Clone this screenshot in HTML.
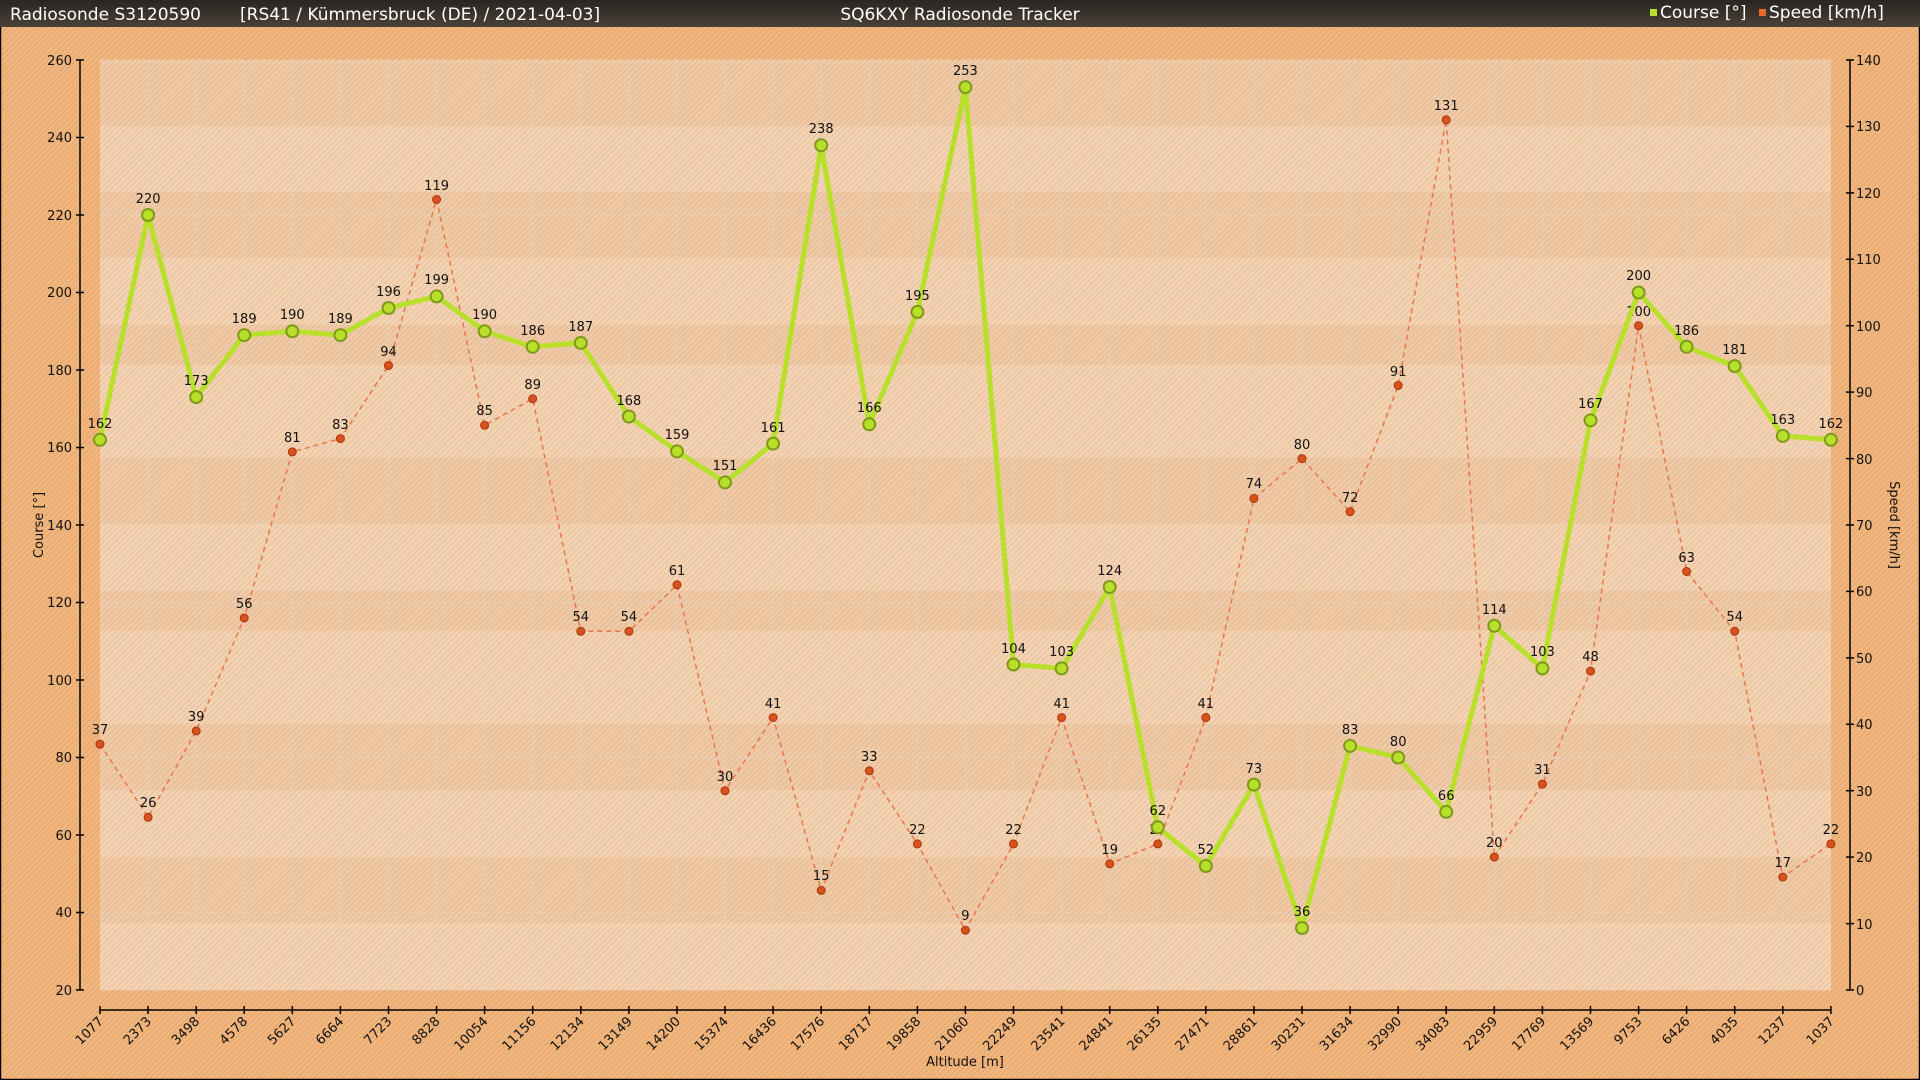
<!DOCTYPE html>
<html><head><meta charset="utf-8"><style>
html,body{margin:0;padding:0;width:1920px;height:1080px;overflow:hidden;}
svg{display:block;font-family:"DejaVu Sans","Liberation Sans",sans-serif;}
</style></head><body>
<svg width="1920" height="1080" viewBox="0 0 1920 1080" xmlns="http://www.w3.org/2000/svg">
<defs>
<pattern id="h" width="4" height="4" patternUnits="userSpaceOnUse" patternTransform="rotate(45)">
<rect width="4" height="4" fill="none"/><line x1="0" y1="0" x2="0" y2="4" stroke="#000" stroke-opacity="0.11" stroke-width="1.4"/></pattern>
<linearGradient id="hd" x1="0" y1="0" x2="0" y2="1"><stop offset="0" stop-color="#2a2520"/><stop offset="1" stop-color="#4a4038"/></linearGradient>
</defs>
<rect width="1920" height="1080" fill="#f2b57c"/>
<rect width="1920" height="1080" fill="url(#h)"/>
<rect x="0.5" y="0.5" width="1919" height="1079" fill="none" stroke="#000" stroke-width="1.5"/>
<rect x="0" y="0" width="1920" height="27" fill="url(#hd)"/>
<text x="10" y="20" font-size="17" fill="#fff">Radiosonde S3120590</text>
<text x="240" y="20" font-size="17" fill="#fff">[RS41 / Kümmersbruck (DE) / 2021-04-03]</text>
<text x="960" y="20" font-size="17" fill="#fff" text-anchor="middle">SQ6KXY Radiosonde Tracker</text>
<rect x="1650" y="9" width="7" height="7" fill="#b8e02a"/>
<text x="1660" y="18" font-size="17" fill="#fff">Course [°]</text>
<rect x="1759" y="9" width="7" height="7" fill="#e86a2a"/>
<text x="1769" y="18" font-size="17" fill="#fff">Speed [km/h]</text>

<rect x="100" y="60" width="1731" height="930" fill="#f5d2b0"/>
<g fill="#e8b88c" opacity="0.3">
<rect x="100" y="60" width="1731" height="66"/>
<rect x="100" y="192" width="1731" height="66"/>
<rect x="100" y="325" width="1731" height="40"/>
<rect x="100" y="458" width="1731" height="66"/>
<rect x="100" y="591" width="1731" height="40"/>
<rect x="100" y="724" width="1731" height="66"/>
<rect x="100" y="857" width="1731" height="66"/>
</g>
<rect x="100" y="60" width="1731" height="930" fill="url(#h)"/>
<g stroke="#e6d2c0" stroke-width="1" stroke-dasharray="4,3">
<line x1="100" x2="1831" y1="137.5" y2="137.5"/><line x1="100" x2="1831" y1="215" y2="215"/><line x1="100" x2="1831" y1="292.5" y2="292.5"/><line x1="100" x2="1831" y1="370" y2="370"/><line x1="100" x2="1831" y1="447.5" y2="447.5"/><line x1="100" x2="1831" y1="525" y2="525"/><line x1="100" x2="1831" y1="602.5" y2="602.5"/><line x1="100" x2="1831" y1="680" y2="680"/><line x1="100" x2="1831" y1="757.5" y2="757.5"/><line x1="100" x2="1831" y1="835" y2="835"/><line x1="100" x2="1831" y1="912.5" y2="912.5"/>
<line x1="100" x2="1831" y1="60" y2="60"/><line x1="100" x2="1831" y1="990" y2="990"/>
<path d="M148.1 60v930M196.2 60v930M244.2 60v930M292.3 60v930M340.4 60v930M388.5 60v930M436.6 60v930M484.6 60v930M532.7 60v930M580.8 60v930M628.9 60v930M677 60v930M725 60v930M773.1 60v930M821.2 60v930M869.3 60v930M917.4 60v930M965.4 60v930M1013.5 60v930M1061.6 60v930M1109.7 60v930M1157.8 60v930M1205.8 60v930M1253.9 60v930M1302 60v930M1350.1 60v930M1398.2 60v930M1446.2 60v930M1494.3 60v930M1542.4 60v930M1590.5 60v930M1638.6 60v930M1686.6 60v930M1734.7 60v930M1782.8 60v930"/>
</g>

<g stroke="#000" stroke-width="1.5">
<line x1="80" y1="60" x2="80" y2="990"/>
<line x1="76" x2="84" y1="60" y2="60"/><line x1="76" x2="84" y1="137.5" y2="137.5"/><line x1="76" x2="84" y1="215" y2="215"/><line x1="76" x2="84" y1="292.5" y2="292.5"/><line x1="76" x2="84" y1="370" y2="370"/><line x1="76" x2="84" y1="447.5" y2="447.5"/><line x1="76" x2="84" y1="525" y2="525"/><line x1="76" x2="84" y1="602.5" y2="602.5"/><line x1="76" x2="84" y1="680" y2="680"/><line x1="76" x2="84" y1="757.5" y2="757.5"/><line x1="76" x2="84" y1="835" y2="835"/><line x1="76" x2="84" y1="912.5" y2="912.5"/><line x1="76" x2="84" y1="990" y2="990"/>
</g>
<g font-size="13" fill="#111" text-anchor="end">
<text x="72" y="65">260</text><text x="72" y="142">240</text><text x="72" y="220">220</text><text x="72" y="297">200</text><text x="72" y="375">180</text><text x="72" y="452">160</text><text x="72" y="530">140</text><text x="72" y="607">120</text><text x="72" y="685">100</text><text x="72" y="762">80</text><text x="72" y="840">60</text><text x="72" y="917">40</text><text x="72" y="995">20</text>
</g>
<text transform="translate(43,525) rotate(-90)" font-size="13" text-anchor="middle" fill="#111">Course [°]</text>

<g stroke="#000" stroke-width="1.5">
<line x1="1850" y1="60" x2="1850" y2="990"/>
<line x1="1846" x2="1854" y1="60" y2="60"/><line x1="1846" x2="1854" y1="126.4" y2="126.4"/><line x1="1846" x2="1854" y1="192.9" y2="192.9"/><line x1="1846" x2="1854" y1="259.3" y2="259.3"/><line x1="1846" x2="1854" y1="325.7" y2="325.7"/><line x1="1846" x2="1854" y1="392.1" y2="392.1"/><line x1="1846" x2="1854" y1="458.6" y2="458.6"/><line x1="1846" x2="1854" y1="525" y2="525"/><line x1="1846" x2="1854" y1="591.4" y2="591.4"/><line x1="1846" x2="1854" y1="657.9" y2="657.9"/><line x1="1846" x2="1854" y1="724.3" y2="724.3"/><line x1="1846" x2="1854" y1="790.7" y2="790.7"/><line x1="1846" x2="1854" y1="857.1" y2="857.1"/><line x1="1846" x2="1854" y1="923.6" y2="923.6"/><line x1="1846" x2="1854" y1="990" y2="990"/>
</g>
<g font-size="13" fill="#111">
<text x="1856" y="65">140</text><text x="1856" y="131">130</text><text x="1856" y="198">120</text><text x="1856" y="264">110</text><text x="1856" y="331">100</text><text x="1856" y="397">90</text><text x="1856" y="464">80</text><text x="1856" y="530">70</text><text x="1856" y="596">60</text><text x="1856" y="663">50</text><text x="1856" y="729">40</text><text x="1856" y="796">30</text><text x="1856" y="862">20</text><text x="1856" y="929">10</text><text x="1856" y="995">0</text>
</g>
<text transform="translate(1890,525) rotate(90)" font-size="13" text-anchor="middle" fill="#111">Speed [km/h]</text>

<line x1="100" y1="1010" x2="1831" y2="1010" stroke="#000" stroke-width="1.5"/>
<g stroke="#000" stroke-width="1.5">
<path d="M100 1006v8M148.1 1006v8M196.2 1006v8M244.2 1006v8M292.3 1006v8M340.4 1006v8M388.5 1006v8M436.6 1006v8M484.6 1006v8M532.7 1006v8M580.8 1006v8M628.9 1006v8M677 1006v8M725 1006v8M773.1 1006v8M821.2 1006v8M869.3 1006v8M917.4 1006v8M965.4 1006v8M1013.5 1006v8M1061.6 1006v8M1109.7 1006v8M1157.8 1006v8M1205.8 1006v8M1253.9 1006v8M1302 1006v8M1350.1 1006v8M1398.2 1006v8M1446.2 1006v8M1494.3 1006v8M1542.4 1006v8M1590.5 1006v8M1638.6 1006v8M1686.6 1006v8M1734.7 1006v8M1782.8 1006v8M1830.9 1006v8"/>
</g>
<g font-size="13" fill="#111" text-anchor="end">
<text transform="translate(104,1022) rotate(-45)">1077</text>
<text transform="translate(152.1,1022) rotate(-45)">2373</text>
<text transform="translate(200.2,1022) rotate(-45)">3498</text>
<text transform="translate(248.2,1022) rotate(-45)">4578</text>
<text transform="translate(296.3,1022) rotate(-45)">5627</text>
<text transform="translate(344.4,1022) rotate(-45)">6664</text>
<text transform="translate(392.5,1022) rotate(-45)">7723</text>
<text transform="translate(440.6,1022) rotate(-45)">8828</text>
<text transform="translate(488.6,1022) rotate(-45)">10054</text>
<text transform="translate(536.7,1022) rotate(-45)">11156</text>
<text transform="translate(584.8,1022) rotate(-45)">12134</text>
<text transform="translate(632.9,1022) rotate(-45)">13149</text>
<text transform="translate(681,1022) rotate(-45)">14200</text>
<text transform="translate(729,1022) rotate(-45)">15374</text>
<text transform="translate(777.1,1022) rotate(-45)">16436</text>
<text transform="translate(825.2,1022) rotate(-45)">17576</text>
<text transform="translate(873.3,1022) rotate(-45)">18717</text>
<text transform="translate(921.4,1022) rotate(-45)">19858</text>
<text transform="translate(969.4,1022) rotate(-45)">21060</text>
<text transform="translate(1017.5,1022) rotate(-45)">22249</text>
<text transform="translate(1065.6,1022) rotate(-45)">23541</text>
<text transform="translate(1113.7,1022) rotate(-45)">24841</text>
<text transform="translate(1161.8,1022) rotate(-45)">26135</text>
<text transform="translate(1209.8,1022) rotate(-45)">27471</text>
<text transform="translate(1257.9,1022) rotate(-45)">28861</text>
<text transform="translate(1306,1022) rotate(-45)">30231</text>
<text transform="translate(1354.1,1022) rotate(-45)">31634</text>
<text transform="translate(1402.2,1022) rotate(-45)">32990</text>
<text transform="translate(1450.2,1022) rotate(-45)">34083</text>
<text transform="translate(1498.3,1022) rotate(-45)">22959</text>
<text transform="translate(1546.4,1022) rotate(-45)">17769</text>
<text transform="translate(1594.5,1022) rotate(-45)">13569</text>
<text transform="translate(1642.6,1022) rotate(-45)">9753</text>
<text transform="translate(1690.6,1022) rotate(-45)">6426</text>
<text transform="translate(1738.7,1022) rotate(-45)">4035</text>
<text transform="translate(1786.8,1022) rotate(-45)">1237</text>
<text transform="translate(1834.9,1022) rotate(-45)">1037</text>
</g>
<text x="965" y="1066" font-size="13" text-anchor="middle" fill="#111">Altitude [m]</text>

<polyline fill="none" stroke="#e8774a" stroke-width="1.5" stroke-dasharray="5,4" points="100,744.2 148.1,817.3 196.2,730.9 244.2,618 292.3,451.9 340.4,438.6 388.5,365.6 436.6,199.5 484.6,425.3 532.7,398.8 580.8,631.3 628.9,631.3 677,584.8 725,790.7 773.1,717.6 821.2,890.4 869.3,770.8 917.4,843.9 965.4,930.2 1013.5,843.9 1061.6,717.6 1109.7,863.8 1157.8,843.9 1205.8,717.6 1253.9,498.4 1302,458.6 1350.1,511.7 1398.2,385.5 1446.2,119.8 1494.3,857.1 1542.4,784.1 1590.5,671.1 1638.6,325.7 1686.6,571.5 1734.7,631.3 1782.8,877.1 1830.9,843.9"/>
<g fill="#d9521e" stroke="#a8360e" stroke-width="1">
<circle cx="100" cy="744.2" r="4"/><circle cx="148.1" cy="817.3" r="4"/><circle cx="196.2" cy="730.9" r="4"/><circle cx="244.2" cy="618" r="4"/><circle cx="292.3" cy="451.9" r="4"/><circle cx="340.4" cy="438.6" r="4"/><circle cx="388.5" cy="365.6" r="4"/><circle cx="436.6" cy="199.5" r="4"/><circle cx="484.6" cy="425.3" r="4"/><circle cx="532.7" cy="398.8" r="4"/><circle cx="580.8" cy="631.3" r="4"/><circle cx="628.9" cy="631.3" r="4"/><circle cx="677" cy="584.8" r="4"/><circle cx="725" cy="790.7" r="4"/><circle cx="773.1" cy="717.6" r="4"/><circle cx="821.2" cy="890.4" r="4"/><circle cx="869.3" cy="770.8" r="4"/><circle cx="917.4" cy="843.9" r="4"/><circle cx="965.4" cy="930.2" r="4"/><circle cx="1013.5" cy="843.9" r="4"/><circle cx="1061.6" cy="717.6" r="4"/><circle cx="1109.7" cy="863.8" r="4"/><circle cx="1157.8" cy="843.9" r="4"/><circle cx="1205.8" cy="717.6" r="4"/><circle cx="1253.9" cy="498.4" r="4"/><circle cx="1302" cy="458.6" r="4"/><circle cx="1350.1" cy="511.7" r="4"/><circle cx="1398.2" cy="385.5" r="4"/><circle cx="1446.2" cy="119.8" r="4"/><circle cx="1494.3" cy="857.1" r="4"/><circle cx="1542.4" cy="784.1" r="4"/><circle cx="1590.5" cy="671.1" r="4"/><circle cx="1638.6" cy="325.7" r="4"/><circle cx="1686.6" cy="571.5" r="4"/><circle cx="1734.7" cy="631.3" r="4"/><circle cx="1782.8" cy="877.1" r="4"/><circle cx="1830.9" cy="843.9" r="4"/>
</g>
<g font-size="13" fill="#111" text-anchor="middle">
<text x="100" y="734">37</text><text x="148.1" y="807">26</text><text x="196.2" y="721">39</text><text x="244.2" y="608">56</text><text x="292.3" y="442">81</text><text x="340.4" y="429">83</text><text x="388.5" y="356">94</text><text x="436.6" y="190">119</text><text x="484.6" y="415">85</text><text x="532.7" y="389">89</text><text x="580.8" y="621">54</text><text x="628.9" y="621">54</text><text x="677" y="575">61</text><text x="725" y="781">30</text><text x="773.1" y="708">41</text><text x="821.2" y="880">15</text><text x="869.3" y="761">33</text><text x="917.4" y="834">22</text><text x="965.4" y="920">9</text><text x="1013.5" y="834">22</text><text x="1061.6" y="708">41</text><text x="1109.7" y="854">19</text><text x="1157.8" y="834">22</text><text x="1205.8" y="708">41</text><text x="1253.9" y="488">74</text><text x="1302" y="449">80</text><text x="1350.1" y="502">72</text><text x="1398.2" y="376">91</text><text x="1446.2" y="110">131</text><text x="1494.3" y="847">20</text><text x="1542.4" y="774">31</text><text x="1590.5" y="661">48</text><text x="1638.6" y="316">100</text><text x="1686.6" y="562">63</text><text x="1734.7" y="621">54</text><text x="1782.8" y="867">17</text><text x="1830.9" y="834">22</text>
</g>

<polyline fill="none" stroke="#b8e02a" stroke-width="5" stroke-linejoin="round" points="100,439.8 148.1,215 196.2,397.1 244.2,335.1 292.3,331.3 340.4,335.1 388.5,308 436.6,296.4 484.6,331.3 532.7,346.8 580.8,342.9 628.9,416.5 677,451.4 725,482.4 773.1,443.6 821.2,145.3 869.3,424.3 917.4,311.9 965.4,87.1 1013.5,664.5 1061.6,668.4 1109.7,587 1157.8,827.3 1205.8,866 1253.9,784.6 1302,928 1350.1,745.9 1398.2,757.5 1446.2,811.8 1494.3,625.8 1542.4,668.4 1590.5,420.4 1638.6,292.5 1686.6,346.8 1734.7,366.1 1782.8,435.9 1830.9,439.8"/>
<g fill="#b8e02a" stroke="#7f9a1a" stroke-width="2">
<circle cx="100" cy="439.8" r="6"/><circle cx="148.1" cy="215" r="6"/><circle cx="196.2" cy="397.1" r="6"/><circle cx="244.2" cy="335.1" r="6"/><circle cx="292.3" cy="331.3" r="6"/><circle cx="340.4" cy="335.1" r="6"/><circle cx="388.5" cy="308" r="6"/><circle cx="436.6" cy="296.4" r="6"/><circle cx="484.6" cy="331.3" r="6"/><circle cx="532.7" cy="346.8" r="6"/><circle cx="580.8" cy="342.9" r="6"/><circle cx="628.9" cy="416.5" r="6"/><circle cx="677" cy="451.4" r="6"/><circle cx="725" cy="482.4" r="6"/><circle cx="773.1" cy="443.6" r="6"/><circle cx="821.2" cy="145.3" r="6"/><circle cx="869.3" cy="424.3" r="6"/><circle cx="917.4" cy="311.9" r="6"/><circle cx="965.4" cy="87.1" r="6"/><circle cx="1013.5" cy="664.5" r="6"/><circle cx="1061.6" cy="668.4" r="6"/><circle cx="1109.7" cy="587" r="6"/><circle cx="1157.8" cy="827.3" r="6"/><circle cx="1205.8" cy="866" r="6"/><circle cx="1253.9" cy="784.6" r="6"/><circle cx="1302" cy="928" r="6"/><circle cx="1350.1" cy="745.9" r="6"/><circle cx="1398.2" cy="757.5" r="6"/><circle cx="1446.2" cy="811.8" r="6"/><circle cx="1494.3" cy="625.8" r="6"/><circle cx="1542.4" cy="668.4" r="6"/><circle cx="1590.5" cy="420.4" r="6"/><circle cx="1638.6" cy="292.5" r="6"/><circle cx="1686.6" cy="346.8" r="6"/><circle cx="1734.7" cy="366.1" r="6"/><circle cx="1782.8" cy="435.9" r="6"/><circle cx="1830.9" cy="439.8" r="6"/>
</g>
<g font-size="13" fill="#111" text-anchor="middle">
<text x="100" y="428">162</text><text x="148.1" y="203">220</text><text x="196.2" y="385">173</text><text x="244.2" y="323">189</text><text x="292.3" y="319">190</text><text x="340.4" y="323">189</text><text x="388.5" y="296">196</text><text x="436.6" y="284">199</text><text x="484.6" y="319">190</text><text x="532.7" y="335">186</text><text x="580.8" y="331">187</text><text x="628.9" y="405">168</text><text x="677" y="439">159</text><text x="725" y="470">151</text><text x="773.1" y="432">161</text><text x="821.2" y="133">238</text><text x="869.3" y="412">166</text><text x="917.4" y="300">195</text><text x="965.4" y="75">253</text><text x="1013.5" y="653">104</text><text x="1061.6" y="656">103</text><text x="1109.7" y="575">124</text><text x="1157.8" y="815">62</text><text x="1205.8" y="854">52</text><text x="1253.9" y="773">73</text><text x="1302" y="916">36</text><text x="1350.1" y="734">83</text><text x="1398.2" y="746">80</text><text x="1446.2" y="800">66</text><text x="1494.3" y="614">114</text><text x="1542.4" y="656">103</text><text x="1590.5" y="408">167</text><text x="1638.6" y="280">200</text><text x="1686.6" y="335">186</text><text x="1734.7" y="354">181</text><text x="1782.8" y="424">163</text><text x="1830.9" y="428">162</text>
</g>
</svg>
</body></html>
